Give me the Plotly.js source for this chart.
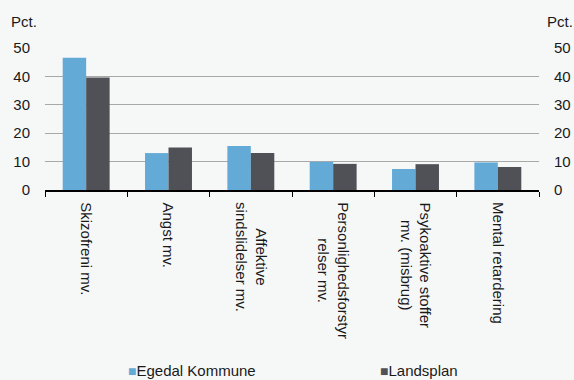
<!DOCTYPE html>
<html><head><meta charset="utf-8">
<script src="https://cdn.plot.ly/plotly-3.0.1.min.js"></script>
<style>html,body{margin:0;padding:0;background:#f6f8f8;}</style>
</head><body>
<div id="chart" style="width:574px;height:380px;"></div>
<script>
const categories = ["Skizofreni mv.", "Angst mv.", "Affektive<br>sindslidelser mv.", "Personlighedsforstyr<br>relser mv.", "Psykoaktive stoffer<br>mv. (misbrug)", "Mental retardering"];
const egedal = [46.6, 13.0, 15.5, 9.9, 7.4, 9.7];
const landsplan = [39.6, 15.0, 13.0, 9.2, 9.1, 8.1];
const seriesNames = ["Egedal Kommune", "Landsplan"];
const seriesColors = ["#63aad6", "#505157"];
const yTicks = [0, 10, 20, 30, 40, 50];

const font = {family: "Liberation Sans, Arial, sans-serif", size: 15, color: "#1a1a1a"};
const traces = [
  {type: "bar", x: categories, y: egedal, name: seriesNames[0], marker: {color: seriesColors[0]}, showlegend: false},
  {type: "bar", x: categories, y: landsplan, name: seriesNames[1], marker: {color: seriesColors[1]}, showlegend: false},
  {type: "scatter", mode: "none", x: categories, y: landsplan, yaxis: "y2", showlegend: false, hoverinfo: "skip"}
];
const annotations = [
  {text: "Pct.", xref: "paper", yref: "paper", x: -0.072, y: 1.19, showarrow: false, xanchor: "left", yanchor: "middle", font: font},
  {text: "Pct.", xref: "paper", yref: "paper", x: 1.013, y: 1.19, showarrow: false, xanchor: "left", yanchor: "middle", font: font}
];
categories.forEach(c => annotations.push({
  text: c, x: c, xref: "x", yref: "paper", y: -0.07, yanchor: "top", xanchor: "center",
  textangle: 90, showarrow: false, align: "center", font: font
}));
const legendX = [0.163, 0.675];
seriesNames.forEach((n, i) => annotations.push({
  text: "<span style='color:" + seriesColors[i] + ";font-size:14px'>■</span>" + n,
  xref: "paper", yref: "paper", x: legendX[i], y: -1.27, xanchor: "left", yanchor: "middle",
  showarrow: false, font: font
}));
const layout = {
  width: 574, height: 380,
  margin: {l: 45, r: 35, t: 47.5, b: 190},
  paper_bgcolor: "#f6f8f8", plot_bgcolor: "#f6f8f8",
  font: font,
  barmode: "group", bargap: 0.43, bargroupgap: 0,
  xaxis: {type: "category", showline: true, linecolor: "#000", linewidth: 2,
          ticks: "outside", ticklen: 5, tickcolor: "#000", tickson: "boundaries",
          showgrid: false, showticklabels: false, automargin: false},
  yaxis: {range: [0, 50], tickvals: yTicks, showgrid: true, gridcolor: "#a8a8a8", gridwidth: 1,
          zeroline: false, showline: false, ticks: "", ticklabelstandoff: 14, tickfont: font},
  yaxis2: {range: [0, 50], tickvals: yTicks, overlaying: "y", side: "right", showgrid: false,
           zeroline: false, showline: false, ticks: "", ticklabelstandoff: 14, tickfont: font},
  annotations: annotations
};
Plotly.newPlot("chart", traces, layout, {staticPlot: true});
</script>
</body></html>
